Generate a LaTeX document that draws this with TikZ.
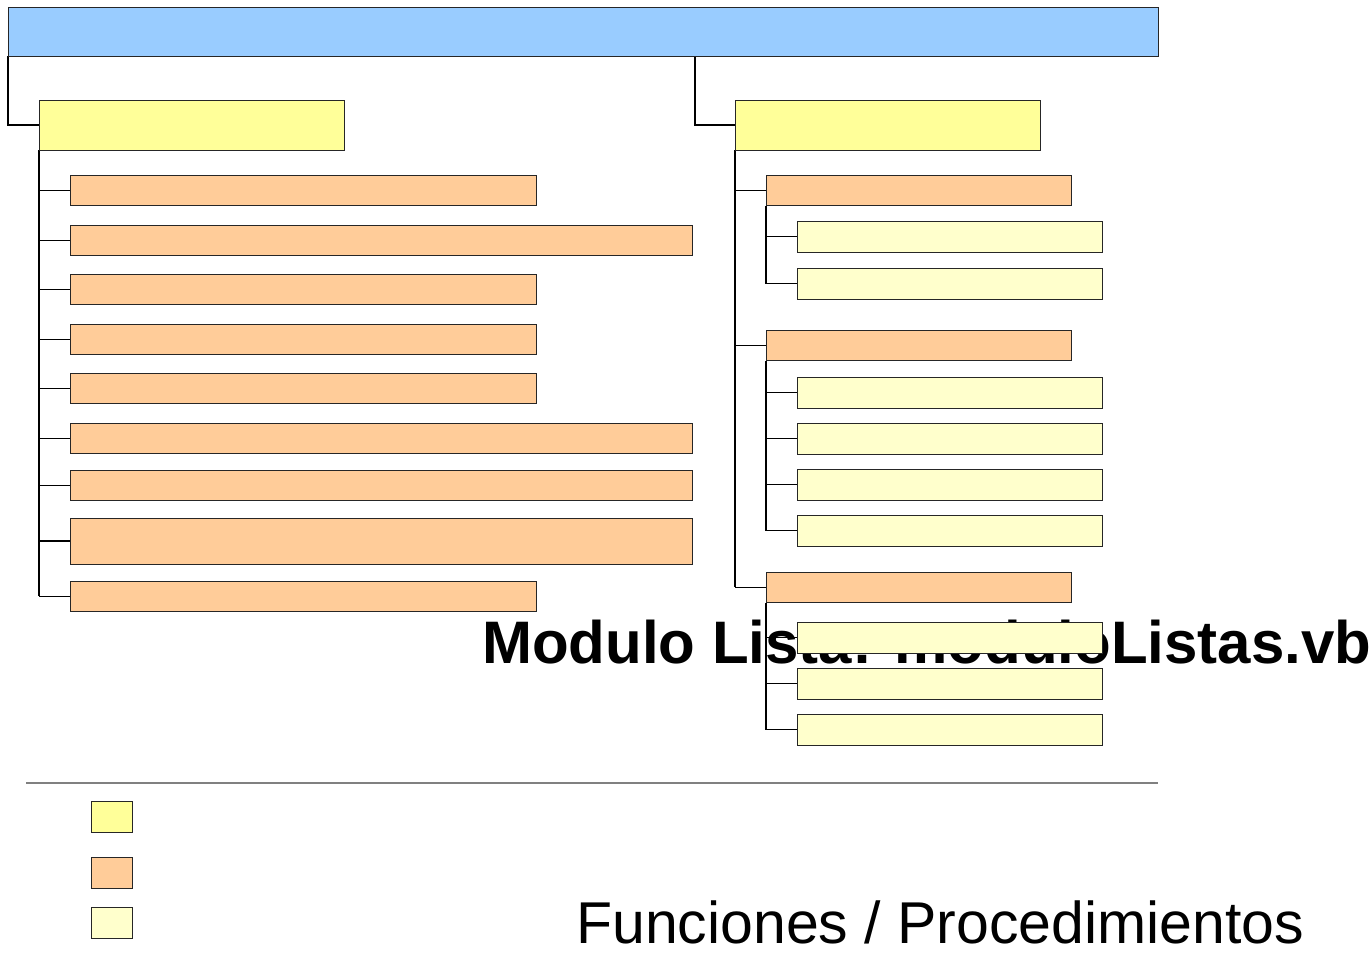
\documentclass[tikz,border=0pt]{standalone}
\usepackage{fontspec}
\setmainfont{Liberation Sans}
\usetikzlibrary{positioning}
\definecolor{modblue}{HTML}{99CCFF}
\definecolor{modyellow}{HTML}{FFFF99}
\definecolor{modorange}{HTML}{FFCC99}
\definecolor{modpale}{HTML}{FFFFCC}
\pgfdeclarelayer{txt}
\pgfdeclarelayer{lines}
\pgfsetlayers{txt,lines,main}
\tikzset{
  box/.style={draw=black!85, line width=1pt, anchor=north west, inner sep=0pt, outer sep=0pt},
  root/.style={box, fill=modblue, minimum width=1150pt, minimum height=49pt},
  group/.style={box, fill=modyellow, minimum width=305pt, minimum height=50pt},
  item/.style={box, fill=modorange, minimum height=30.5pt},
  shortitem/.style={item, minimum width=466pt},
  longitem/.style={item, minimum width=622pt},
  ritem/.style={item, minimum width=305pt},
  leaf/.style={box, fill=modpale, minimum width=305pt, minimum height=31pt},
  key/.style={box, minimum width=41pt, minimum height=31pt},
  wire/.style={draw=black, line width=1.5pt},
}
\begin{document}
\begin{tikzpicture}[x=1pt, y=-1pt]
\useasboundingbox (0,0) rectangle (1371,954);

% header and module groups
\node[root] (top) at (8,7) {};
\node[group] (ly) at (39,100) {};
\node[group] (ry) at (735,100) {};
\coordinate (rj) at (695,56);

% left column of members
\node[shortitem] (l1) at (70,175) {};
\node[longitem]  (l2) at (70,225) {};
\node[shortitem] (l3) at (70,274) {};
\node[shortitem] (l4) at (70,324) {};
\node[shortitem] (l5) at (70,373) {};
\node[longitem]  (l6) at (70,423) {};
\node[longitem]  (l7) at (70,470) {};
\node[longitem, minimum height=46pt] (l8) at (70,518) {};
\node[shortitem] (l9) at (70,581) {};

% right column: sections and their routines
\node[ritem] (r1) at (766,175) {};
\node[leaf] (p11) at (797,221) {};
\node[leaf] (p12) at (797,268) {};
\node[ritem] (r2) at (766,330) {};
\node[leaf] (p21) at (797,377) {};
\node[leaf] (p22) at (797,423) {};
\node[leaf] (p23) at (797,469) {};
\node[leaf] (p24) at (797,515) {};
\node[ritem] (r3) at (766,572) {};
\node[leaf] (p31) at (797,622) {};
\node[leaf] (p32) at (797,668) {};
\node[leaf] (p33) at (797,714) {};

% legend
\node[key, fill=modyellow] (k1) at (91,801) {};
\node[key, fill=modorange] (k2) at (91,857) {};
\node[key, fill=modpale]   (k3) at (91,907) {};

\begin{pgfonlayer}{txt}
  \node[anchor=base west, inner sep=0pt] (title) at (482,663)
    {\bfseries\fontsize{60}{72}\selectfont Modulo Lista: moduloListas.vb};
  \node[anchor=base west, inner sep=0pt] (fp) at (576,943)
    {\fontsize{59}{70}\selectfont Funciones / Procedimientos};
\end{pgfonlayer}

\begin{pgfonlayer}{lines}
  % header to groups
  \draw[wire] (top.south west) |- (ly.west);
  \draw[wire] (rj) |- (ry.west);
  % left group trunk
  \draw[wire] (ly.south west) -- (ly.south west |- l9.west);
  \foreach \n in {l1,l2,l3,l4,l5,l6,l7,l8,l9}
    \draw[wire] (ly.south west |- \n.west) -- (\n.west);
  % right group trunk
  \draw[wire] (ry.south west) -- (ry.south west |- r3.west);
  \foreach \n in {r1,r2,r3}
    \draw[wire] (ry.south west |- \n.west) -- (\n.west);
  % routines
  \draw[wire] (r1.south west) -- (r1.south west |- p12.west);
  \foreach \n in {p11,p12}
    \draw[wire] (r1.south west |- \n.west) -- (\n.west);
  \draw[wire] (r2.south west) -- (r2.south west |- p24.west);
  \foreach \n in {p21,p22,p23,p24}
    \draw[wire] (r2.south west |- \n.west) -- (\n.west);
  \draw[wire] (r3.south west) -- (r3.south west |- p33.west);
  \foreach \n in {p31,p32,p33}
    \draw[wire] (r3.south west |- \n.west) -- (\n.west);
  % separator above the legend
  \draw[gray, line width=1.2pt] (26,783) -- (1158,783);
\end{pgfonlayer}
\end{tikzpicture}
\end{document}
